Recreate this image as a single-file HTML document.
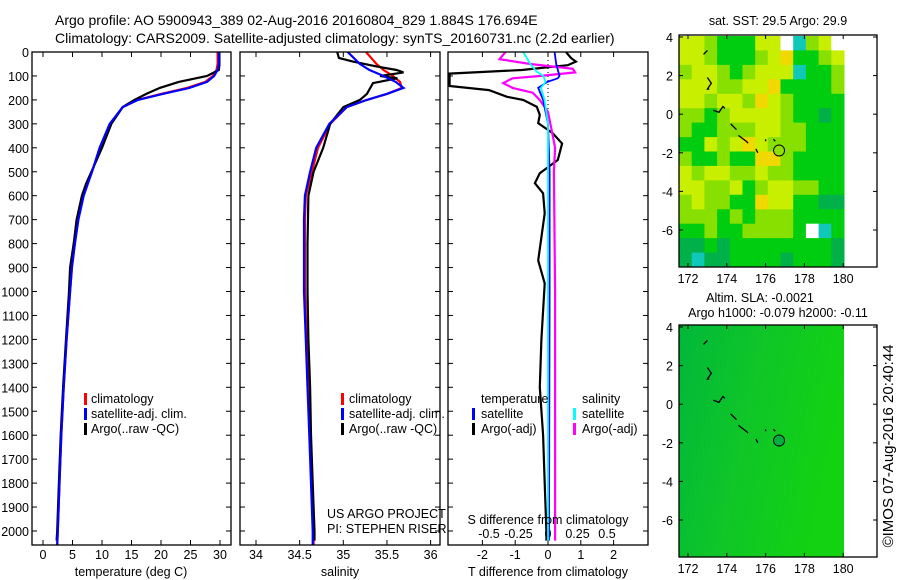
<!DOCTYPE html>
<html><head><meta charset="utf-8"><style>
body{margin:0;background:#fff;}
svg{display:block;font-family:"Liberation Sans",sans-serif;}
</style></head><body>
<svg id="c" width="900" height="580" viewBox="0 0 900 580">
<defs>
<clipPath id="cp1"><rect x="32" y="52" width="199" height="493"/></clipPath>
<clipPath id="cp2"><rect x="240" y="52" width="200" height="493"/></clipPath>
<clipPath id="cp3"><rect x="448" y="52" width="200" height="493"/></clipPath>
<linearGradient id="slag" x1="0" y1="0" x2="1" y2="0.3">
<stop offset="0" stop-color="#00b83a"/><stop offset="0.5" stop-color="#10c628"/><stop offset="1" stop-color="#12d212"/></linearGradient>
</defs>
<text x="55" y="25" font-size="14">Argo profile: AO 5900943_389 02-Aug-2016 20160804_829 1.884S 176.694E</text>
<text x="55" y="43" font-size="14">Climatology: CARS2009. Satellite-adjusted climatology: synTS_20160731.nc (2.2d earlier)</text>
<g id="g"></g>
</svg>
<script>
// ---- data ----
const depthsClim = [0,50,75,100,125,150,175,200,230,300,400,500,600,700,800,900,1000,1200,1400,1600,1800,2000,2060];
const tempClim = [29.6,29.6,29.4,28.8,27.5,24.4,20,16,13.5,11.4,9.7,8.3,6.8,5.9,5.4,4.9,4.6,4.0,3.5,3.1,2.8,2.5,2.4];
const tempSat  = [29.8,29.8,29.6,29.0,27.8,24.8,20.3,16.1,13.5,11.3,9.6,8.3,6.9,6.0,5.4,4.9,4.6,4.0,3.5,3.1,2.8,2.5,2.4];
const depthsArgo = [0,25,40,55,75,100,125,150,175,200,230,300,400,500,550,600,700,800,900,1000,1200,1400,1600,1800,2000,2040];
const tempArgo = [29.9,29.9,29.9,29.9,29.8,27.8,23,19.8,17.5,15.5,13.5,11.6,10,8.2,7.3,6.6,5.7,5.2,4.6,4.4,3.9,3.4,3.0,2.7,2.4,2.3];
const salClim = [35.26,35.38,35.46,35.57,35.65,35.67,35.5,35.27,35.04,34.85,34.71,34.64,34.57,34.56,34.56,34.56,34.56,34.58,34.6,34.62,34.64,34.66,34.66];
const salSat  = [35.05,35.19,35.3,35.46,35.6,35.69,35.5,35.27,35.04,34.84,34.69,34.62,34.56,34.55,34.55,34.55,34.55,34.57,34.59,34.61,34.63,34.65,34.65];
const salArgoDepths = [0,25,40,60,75,85,100,110,130,175,200,230,300,400,500,600,800,1000,1200,1400,1600,1800,2000,2040];
const salArgo = [34.93,34.95,35.11,35.38,35.61,35.69,35.42,35.62,35.34,35.27,35.19,35.0,34.85,34.77,34.66,34.6,34.59,34.59,34.6,34.62,34.63,34.65,34.67,34.67];
const dtDepths = [0,25,40,55,75,90,109,142,159,187,200,229,263,297,340,382,451,506,548,590,674,870,966,1200,1400,1600,1800,2000,2040];
const dtArgo = [0.55,0.7,0.85,0.6,-0.8,-3,-3,-3,-1.8,-1.25,-0.76,-0.34,-0.25,-0.3,0.15,0.43,0.3,-0.25,-0.4,-0.15,-0.1,-0.3,-0.1,-0.2,-0.25,-0.15,-0.1,-0.05,-0.05];
const dtSatDepths = [0,50,100,110,125,150,200,300,500,1000,2040];
const dtSat = [0.2,0.25,0.35,0.3,-0.02,-0.3,-0.15,0,0.05,0.05,0.03];
const dsArgoDepths = [0,30,50,70,85,100,110,130,150,170,200,250,300,400,500,1000,1500,2040];
const dsArgo = [-0.36,-0.41,-0.15,0.21,0.23,-0.07,-0.3,-0.38,-0.3,-0.13,-0.07,0,0.02,0.06,0.05,0.06,0.06,0.06];
const dsSatDepths = [0,50,80,100,125,150,200,300,1000,2040];
const dsSat = [-0.21,-0.15,-0.1,-0.04,-0.02,-0.06,-0.03,0,0,0];
const depthTicks = [0,100,200,300,400,500,600,700,800,900,1000,1100,1200,1300,1400,1500,1600,1700,1800,1900,2000];
const tempTicks = [0,5,10,15,20,25,30];
const salTicks = [34,34.5,35,35.5,36];
const dtTicks = [-2,-1,0,1,2];
const dsTicks = [-0.5,-0.25,0,0.25,0.5];
const lonTicks = [172,174,176,178,180];
const latTicks = [4,2,0,-2,-4,-6];
const sstRows = [
"YYLGGGYYWCLYW",
"YYLGGGLYOGGLY",
"LYYLGLYYYCGGL",
"YYYLLYYOGGGGL",
"YYLYYLOYLGGGG",
"LLGLYYYYLGGDG",
"LGGLLLYYLLGGG",
"GGYLYOYLLLGGG",
"LGGLGGOOLGGGG",
"YLYYLLYLLGGGG",
"YYLLYGLYYLLGG",
"LYLLGGOYYGGDD",
"LLLGLGLLLGGGG",
"GGLGGLLLLGWCG",
"DDGDGGGGGGGGD",
"DCDDGGGGDGGGD"];
const sstColors = {Y:"#c8ee00",L:"#88e000",G:"#00cc10",D:"#00b048",O:"#f0d800",C:"#10c8b8",W:"#ffffff"};
const islandLon = [[172.8,173.0,172.9],[173.0,173.2,173.0,173.1],[173.3,173.6,173.8,173.9],[174.2,174.5],[174.6,175.0,175.1],[175.5,175.6],[176.0,176.0],[176.4,176.5],[176.0],[176.8],[176.1],[176.3],[177.3],[177.1],[178.7]];
const islandLat = [[3.1,3.3,3.2],[1.9,1.6,1.3,1.3],[0.2,0.1,0.4,0.3],[-0.5,-0.8],[-1.1,-1.4,-1.5],[-1.8,-2.0],[-1.3,-1.4],[-1.3,-1.4],[-2.5],[-2.7],[-5.7],[-6.3],[-6.1],[-7.3],[-7.5]];
const argoLon = 176.694, argoLat = -1.884;

// ---- helpers ----
const NS="http://www.w3.org/2000/svg";
const G=document.getElementById('g');
function el(t,a,p){const e=document.createElementNS(NS,t);for(const k in a)e.setAttribute(k,a[k]);(p||G).appendChild(e);return e;}
const yD = d => 52 + d*0.2395;
const xT = v => 43 + v*5.9;
const xS = v => 256 + (v-34)*87.3;
const xDT = v => 548 + v*32.8;
const xDS = v => 548 + v*118;
function line(xs,ys,fx,fy,col,clip,name,w){
  const pts=xs.map((v,i)=>fx(v).toFixed(1)+','+fy(ys[i]).toFixed(1)).join(' ');
  const e=el('polyline',{points:pts,fill:'none',stroke:col,'stroke-width':w||2.2,'clip-path':'url(#'+clip+')'});
  
  
}
function frame(x,y,w,h,name){
  const e=el('rect',{x:x,y:y,width:w,height:h,fill:'none',stroke:'#000','stroke-width':1.3});
  
  
}
function txt(x,y,s,anchor,name,size){
  const e=el('text',{x:x,y:y,'font-size':size||12,'text-anchor':anchor||'start'});
  e.textContent=s;
  
  
  return e;
}
function tick(x1,y1,x2,y2){el('line',{x1:x1,y1:y1,x2:x2,y2:y2,stroke:'#000','stroke-width':1});}

// ---- profile panels ----
const panels=[[32,199],[240,200],[448,200]];
panels.forEach(([x,w],i)=>{
  depthTicks.forEach(d=>{const y=yD(d);tick(x,y,x+5,y);tick(x+w-5,y,x+w,y);});
});
depthTicks.forEach(d=>txt(29,yD(d)+5,String(d),'end','depth-tick-label',12.5));
tempTicks.forEach(v=>{const x=xT(v);tick(x,545,x,540);tick(x,52,x,57);txt(x,559,String(v),'middle','temp-tick-label',12.5);});
salTicks.forEach(v=>{const x=xS(v);tick(x,545,x,540);tick(x,52,x,57);txt(x,559,String(v),'middle','salinity-tick-label',12.5);});
dtTicks.forEach(v=>{const x=xDT(v);tick(x,545,x,540);tick(x,52,x,57);txt(x,559,String(v),'middle','tdiff-tick-label',12.5);});
dsTicks.forEach(v=>{txt(xDS(v),538,String(v),'middle','sdiff-tick-label',12.5);});
{const e=el('line',{x1:xDT(0),y1:52,x2:xDT(0),y2:545,stroke:'#000','stroke-width':1,'stroke-dasharray':'1,3'});
}

line(tempClim,depthsClim,xT,yD,'#f00','cp1','temp-climatology-line');
line(tempArgo,depthsArgo,xT,yD,'#000','cp1','temp-argo-line');
line(tempSat,depthsClim,xT,yD,'#00f','cp1','temp-satellite-line');
line(salClim,depthsClim,xS,yD,'#f00','cp2','salinity-climatology-line');
line(salArgo,salArgoDepths,xS,yD,'#000','cp2','salinity-argo-line');
line(salSat,depthsClim,xS,yD,'#00f','cp2','salinity-satellite-line');
line(dtArgo,dtDepths,xDT,yD,'#000','cp3','tdiff-argo-line');
line(dsArgo,dsArgoDepths,xDS,yD,'#f0f','cp3','sdiff-argo-line');
line(dtSat,dtSatDepths,xDT,yD,'#00f','cp3','tdiff-satellite-line',1.8);
line(dsSat,dsSatDepths,xDS,yD,'#0ff','cp3','sdiff-satellite-line',1.8);
panels.forEach(([x,w],i)=>frame(x,52,w,493,'profile-panel-frame-'+(i+1)));

txt(131,576,'temperature (deg C)','middle','temperature-axis-title',12.5);
txt(340,576,'salinity','middle','salinity-axis-title',12.5);
txt(548,576,'T difference from climatology','middle','tdiff-axis-title',12.5);
txt(548,524,'S difference from climatology','middle','sdiff-axis-title',12.5);
txt(327,518,'US ARGO PROJECT','start','project-label',12.5);
txt(327,533,'PI: STEPHEN RISER','start','pi-label',12.5);

function legendRow(mx,tx,y,col,label,name){
  const m=el('rect',{x:mx,y:y-10,width:3,height:12,fill:col});
  
  
  if(label)txt(tx,y,label,'start',name,12.5);
}
legendRow(84,91,403,'#f00','climatology','legend-climatology');
legendRow(84,91,418,'#00f','satellite-adj. clim.','legend-satellite-adj');
legendRow(84,91,433,'#000','Argo(..raw -QC)','legend-argo');
legendRow(341,349,403,'#f00','climatology','legend-climatology-2');
legendRow(341,349,418,'#00f','satellite-adj. clim.','legend-satellite-adj-2');
legendRow(341,349,433,'#000','Argo(..raw -QC)','legend-argo-2');
txt(481,403,'temperature','start','legend-temperature-header',12.5);
txt(582,403,'salinity','start','legend-salinity-header',12.5);
legendRow(472,481,418,'#00f','satellite','legend-t-satellite');
legendRow(472,481,433,'#000','Argo(-adj)','legend-t-argo');
legendRow(573,582,418,'#0ff','satellite','legend-s-satellite');
legendRow(573,582,433,'#f0f','Argo(-adj)','legend-s-argo');

// ---- maps ----
function map(top){
  const fx=l=>688+(l-172)*19.4;
  const fy=la=>top+2+(4-la)*19.3;
  return {fx,fy};
}
const m1=map(35), m2=map(325);
const x0=679, x1=844, y0=36, y1=267;
const cw=(x1-x0)/13, ch=(y1-y0)/sstRows.length;
sstRows.forEach((row,r)=>{[...row].forEach((c,k)=>{
  const e=el('rect',{x:(x0+k*cw).toFixed(1),y:(y0+r*ch).toFixed(1),width:(cw+0.5).toFixed(1),height:(ch+0.5).toFixed(1),fill:sstColors[c]});
  
  
});});
{const e=el('rect',{x:679,y:325,width:165,height:232,fill:'url(#slag)'});
}
[[m1,35,267,'sst'],[m2,325,557,'sla']].forEach(([m,t,b,n])=>{
  islandLon.forEach((ls,i)=>{
    const pts=ls.map((l,j)=>m.fx(l).toFixed(1)+','+m.fy(islandLat[i][j]).toFixed(1)).join(' ');
    const e=el('polyline',{points:pts,fill:'none',stroke:'#000','stroke-width':1.3});
    
    
  });
  const c=el('circle',{cx:m.fx(argoLon),cy:m.fy(argoLat),r:5.5,fill:n=='sst'?'#90e000':'#00b040',stroke:'#000','stroke-width':1});
  
  
  lonTicks.forEach(l=>{const x=m.fx(l);tick(x,b,x,b-4);tick(x,t,x,t+4);txt(x,b+16,String(l),'middle',n+'-lon-tick-label',12.5);});
  latTicks.forEach(la=>{const y=m.fy(la);tick(679,y,683,y);tick(873,y,877,y);txt(673,y+5,String(la),'end',n+'-lat-tick-label',12.5);});
  frame(679,t,198,b-t,n+'-map-frame');
});
txt(778,25,'sat. SST: 29.5 Argo: 29.9','middle','sst-map-title',12.5);
txt(760,302,'Altim. SLA: -0.0021','middle','sla-map-title-1',12.5);
txt(778,317,'Argo h1000: -0.079 h2000: -0.11','middle','sla-map-title-2',12.5);
{const e=txt(0,0,'©IMOS 07-Aug-2016 20:40:44','middle','imos-credit',15);
e.setAttribute('transform','translate(893,446) rotate(-90)');}
</script>
</body></html>
